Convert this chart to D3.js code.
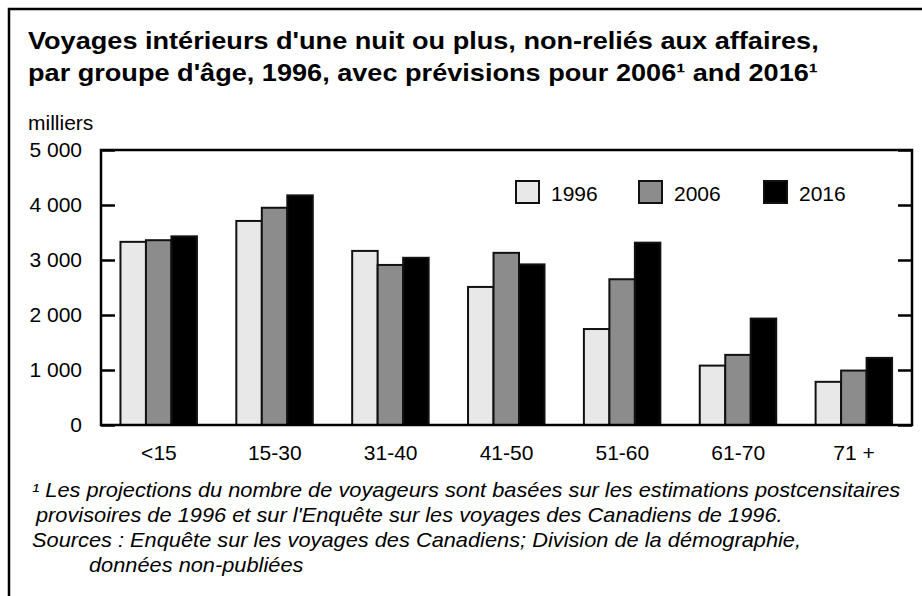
<!DOCTYPE html>
<html>
<head>
<meta charset="utf-8">
<script src="https://cdn.jsdelivr.net/npm/d3@7"></script>
<style>
  body { margin: 0; background: #fff; }
  text { font-family: "Liberation Sans", Arial, sans-serif; fill: #000; }
</style>
</head>
<body>
<svg id="chart" width="922" height="596"></svg>
<script>
const categories = ["<15", "15-30", "31-40", "41-50", "51-60", "61-70", "71 +"];
const seriesNames = ["1996", "2006", "2016"];
const values1996 = [3330, 3710, 3165, 2510, 1745, 1080, 785];
const values2006 = [3360, 3950, 2910, 3130, 2650, 1275, 990];
const values2016 = [3430, 4175, 3040, 2920, 3315, 1935, 1220];
const yTicks = [0, 1000, 2000, 3000, 4000, 5000];

const seriesValues = [values1996, values2006, values2016];
const fills = ["#e8e8e8", "#8c8c8c", "#000000"];

const svg = d3.select("#chart");

// outer frame (cut off at right/bottom like the source)
svg.append("rect")
  .attr("x", 9).attr("y", 9)
  .attr("width", 940).attr("height", 620)
  .attr("fill", "none").attr("stroke", "#000").attr("stroke-width", 2.5);

// title - source type is a bit wider than Liberation, so stretch horizontally
const titleSx = 1.13;
const title = svg.append("text")
  .attr("transform", "scale(" + titleSx + ",1)")
  .attr("font-weight", "bold").attr("font-size", 24);
title.append("tspan").attr("x", 28 / titleSx).attr("y", 49)
  .text("Voyages intérieurs d'une nuit ou plus, non-reliés aux affaires,");
title.append("tspan").attr("x", 28 / titleSx).attr("y", 81)
  .text("par groupe d'âge, 1996, avec prévisions pour 2006¹ and 2016¹");

svg.append("text").attr("x", 28).attr("y", 130)
  .attr("font-size", 21).text("milliers");

// plot area
const plotLeft = 101, plotRight = 912, plotTop = 150, plotBottom = 425;

const y = d3.scaleLinear().domain([0, 5000]).range([plotBottom, plotTop]);
const x = d3.scaleBand().domain(categories).range([plotLeft, plotRight]);
const xs = d3.scaleBand().domain(seriesNames)
  .range([x.bandwidth() * 0.168, x.bandwidth() * 0.828]);

// bars
const groups = svg.append("g").selectAll("g")
  .data(categories)
  .join("g")
  .attr("transform", d => "translate(" + x(d) + ",0)");

groups.selectAll("rect")
  .data((d, i) => seriesNames.map((s, j) => ({ s: s, j: j, v: seriesValues[j][i] })))
  .join("rect")
  .attr("x", d => xs(d.s))
  .attr("y", d => y(d.v))
  .attr("width", xs.bandwidth())
  .attr("height", d => plotBottom - y(d.v))
  .attr("fill", d => fills[d.j])
  .attr("stroke", "#111")
  .attr("stroke-width", 2);

// y axis (left, ticks pointing inward)
const fmt = d => d3.format(",")(d).replace(/,/g, " ");
const yAxis = svg.append("g")
  .attr("transform", "translate(" + plotLeft + ",0)")
  .call(d3.axisLeft(y).tickValues(yTicks).tickFormat(fmt).tickSize(-14).tickPadding(19));
yAxis.select(".domain").remove();
yAxis.selectAll("line").attr("stroke", "#000").attr("stroke-width", 2.5);
yAxis.selectAll("text").attr("font-size", 21).attr("font-family", "Liberation Sans, Arial, sans-serif");

// right side ticks
const yAxisR = svg.append("g")
  .attr("transform", "translate(" + plotRight + ",0)")
  .call(d3.axisRight(y).tickValues(yTicks).tickFormat("").tickSize(-14));
yAxisR.select(".domain").remove();
yAxisR.selectAll("line").attr("stroke", "#000").attr("stroke-width", 2.5);

// x axis labels
const xAxis = svg.append("g")
  .attr("transform", "translate(0," + plotBottom + ")")
  .call(d3.axisBottom(x).tickSize(0).tickPadding(20));
xAxis.select(".domain").remove();
xAxis.selectAll("text").attr("font-size", 21).attr("font-family", "Liberation Sans, Arial, sans-serif");

// plot frame
svg.append("rect")
  .attr("x", plotLeft).attr("y", plotTop)
  .attr("width", plotRight - plotLeft).attr("height", plotBottom - plotTop)
  .attr("fill", "none").attr("stroke", "#000").attr("stroke-width", 2.5);

// legend
const legendX = [516, 639, 764];
const legend = svg.append("g").selectAll("g")
  .data(seriesNames)
  .join("g")
  .attr("transform", (d, i) => "translate(" + legendX[i] + ",181)");
legend.append("rect")
  .attr("width", 23).attr("height", 22)
  .attr("fill", (d, i) => fills[i])
  .attr("stroke", "#111").attr("stroke-width", 2);
legend.append("text")
  .attr("x", 35).attr("y", 20)
  .attr("font-size", 21)
  .text(d => d);

// notes
const noteSx = 1.09;
const notes = svg.append("text")
  .attr("transform", "scale(" + noteSx + ",1)")
  .attr("font-style", "italic").attr("font-size", 20);
notes.append("tspan").attr("x", 32 / noteSx).attr("y", 497)
  .text("¹ Les projections du nombre de voyageurs sont basées sur les estimations postcensitaires");
notes.append("tspan").attr("x", 36 / noteSx).attr("y", 522)
  .text("provisoires de 1996 et sur l'Enquête sur les voyages des Canadiens de 1996.");
notes.append("tspan").attr("x", 32 / noteSx).attr("y", 547)
  .text("Sources : Enquête sur les voyages des Canadiens; Division de la démographie,");
notes.append("tspan").attr("x", 89 / noteSx).attr("y", 572)
  .text("données non-publiées");
</script>
</body>
</html>
